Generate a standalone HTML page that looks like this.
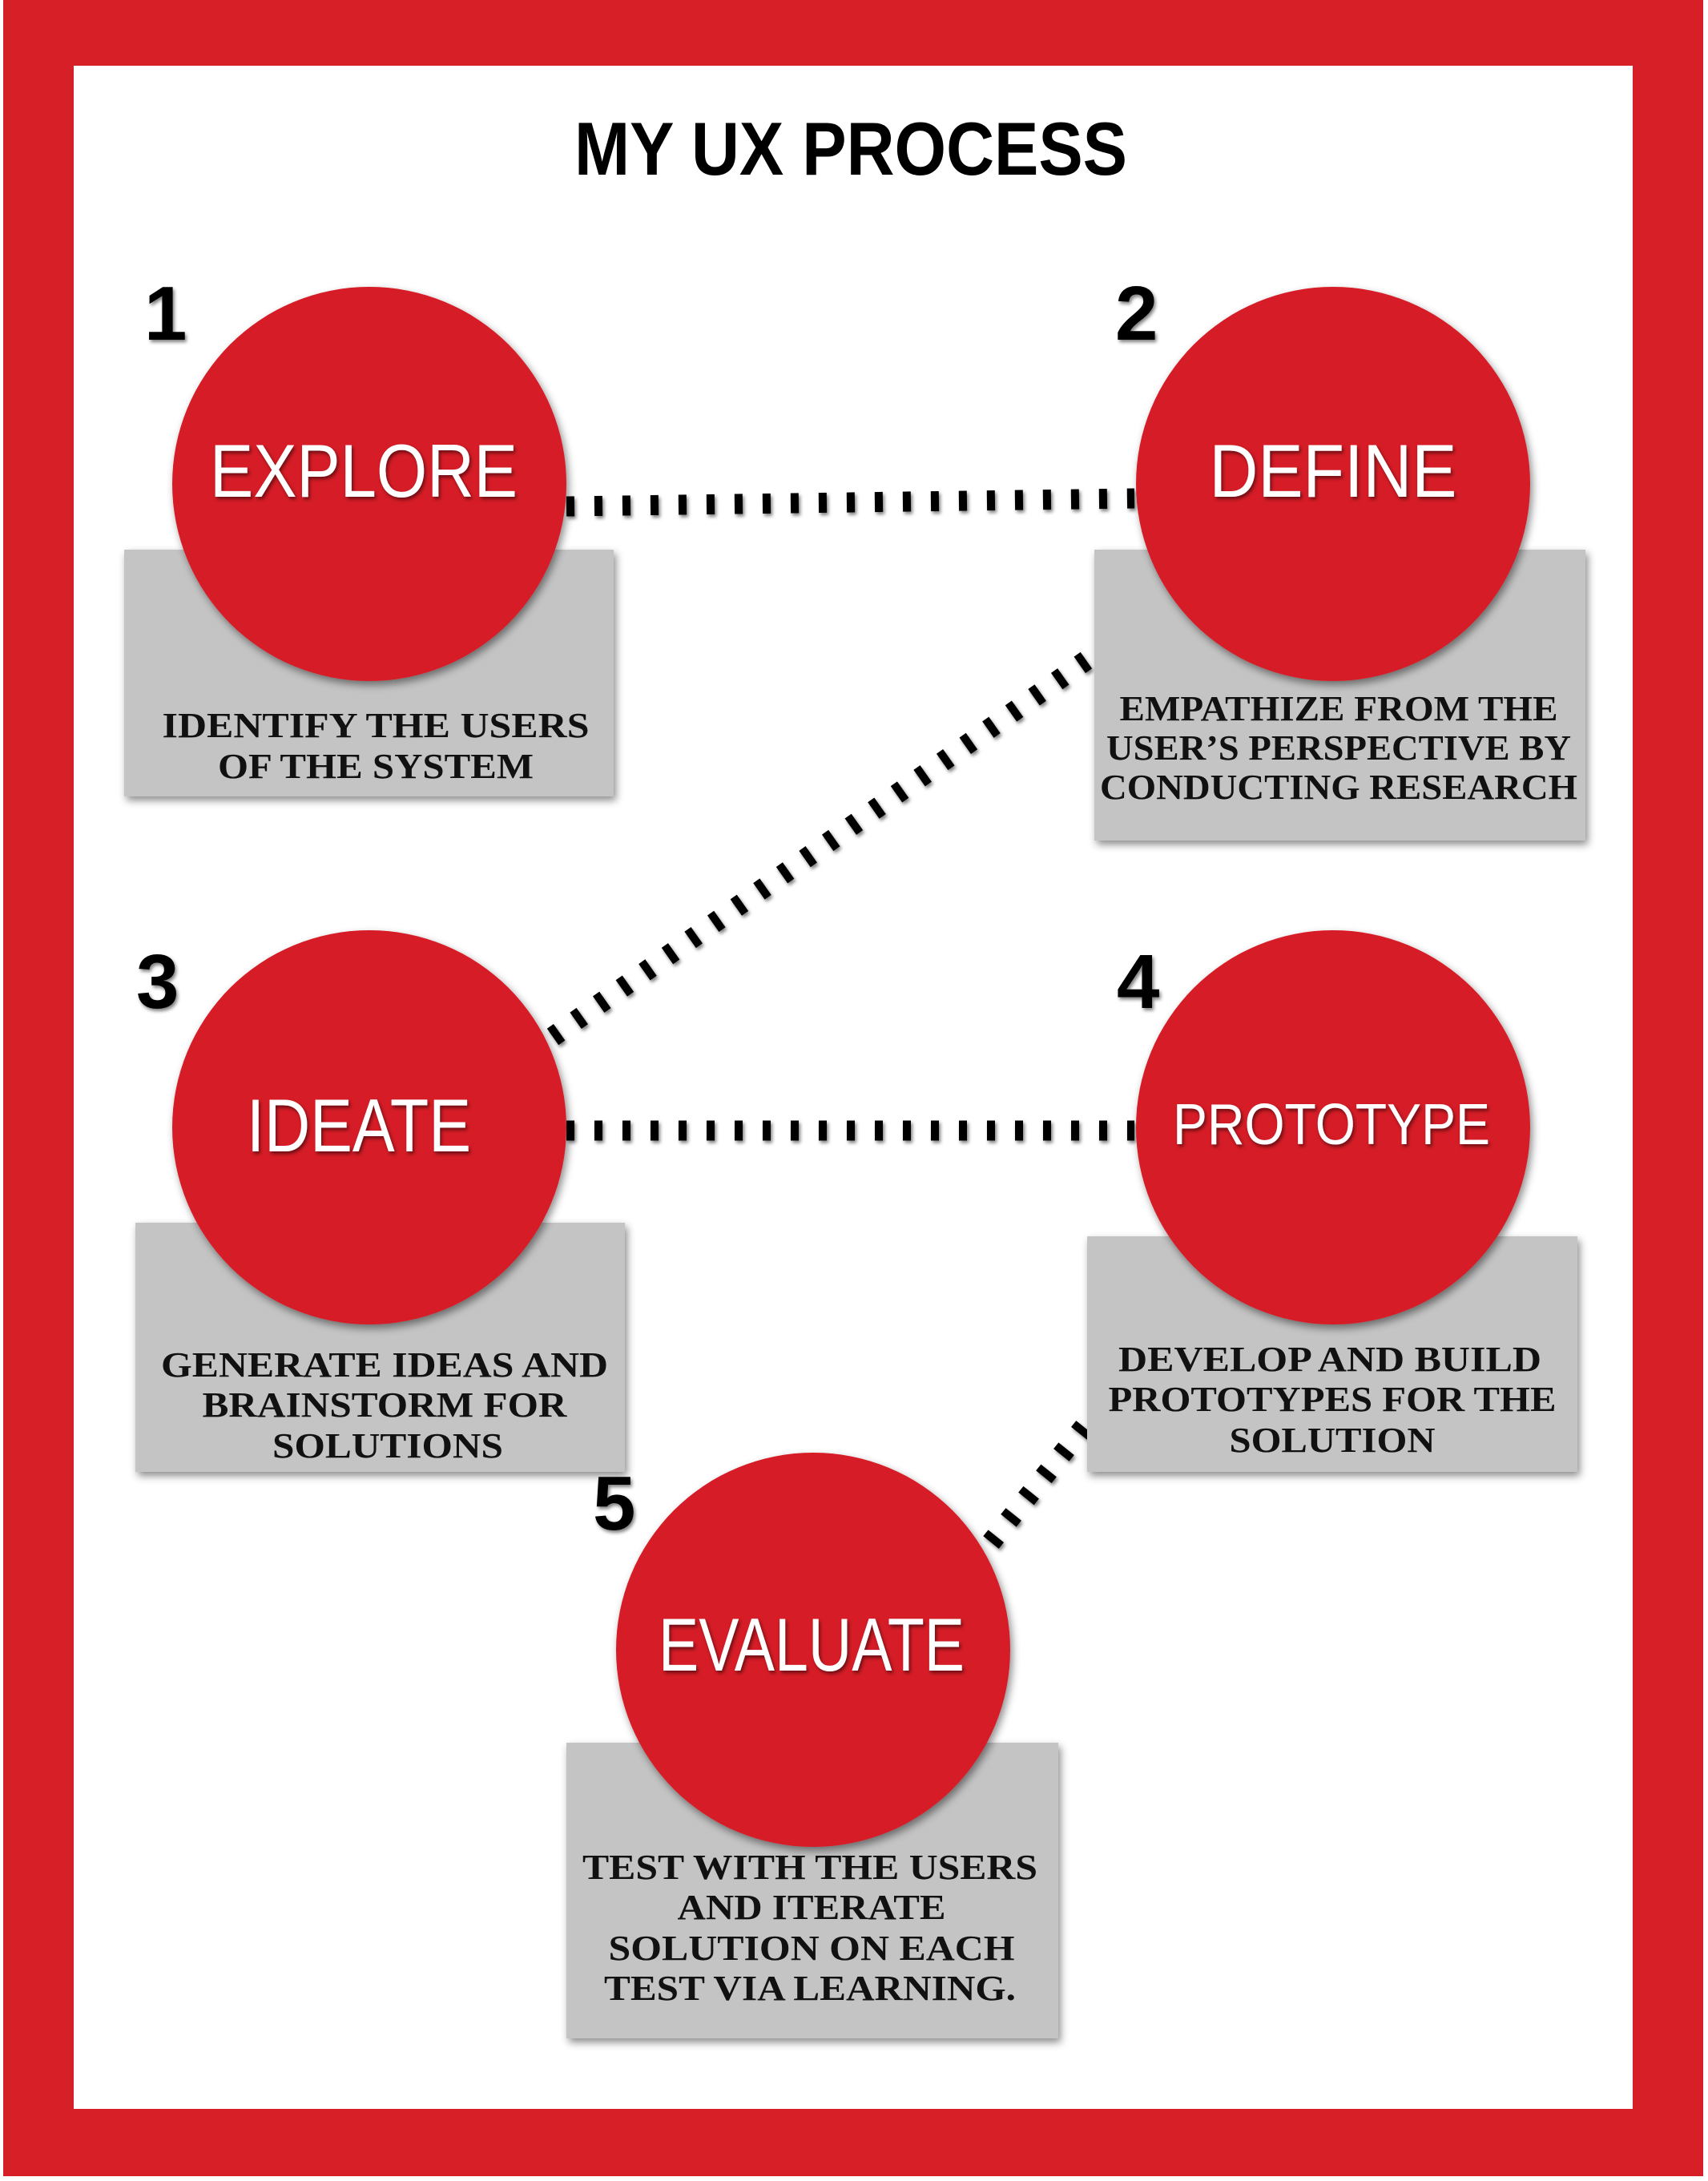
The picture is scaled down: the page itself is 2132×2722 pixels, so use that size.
<!DOCTYPE html>
<html><head><meta charset="utf-8"><style>
html,body{margin:0;padding:0;background:#fff}
svg{display:block}
.lbl{font-family:"Liberation Sans",sans-serif;fill:#fff;}
.bx{font-family:"Liberation Serif",serif;font-weight:bold;font-size:44px;fill:#111;text-anchor:middle}
.num{font-family:"Liberation Sans",sans-serif;font-weight:bold;font-size:96px;fill:#000}
</style></head><body>
<svg width="2132" height="2722" viewBox="0 0 2132 2722" xmlns="http://www.w3.org/2000/svg">
<defs>
<filter id="sh" x="-20%" y="-20%" width="140%" height="140%"><feDropShadow dx="3" dy="5" stdDeviation="5" flood-color="#000" flood-opacity="0.45"/></filter>
<filter id="ts" x="-10%" y="-10%" width="120%" height="130%"><feDropShadow dx="2" dy="3" stdDeviation="2" flood-color="#000" flood-opacity="0.5"/></filter>
</defs>
<rect x="0" y="0" width="2132" height="2722" fill="#fff"/>
<rect x="4" y="0" width="2122" height="2716" fill="#d61f26"/>
<rect x="92" y="82" width="1946" height="2550" fill="#fff"/>
<text x="1062" y="218" text-anchor="middle" font-family="Liberation Sans,sans-serif" font-weight="bold" font-size="94" textLength="690" lengthAdjust="spacingAndGlyphs">MY UX PROCESS</text>

<g fill="none" stroke="#000" stroke-width="25" stroke-dasharray="10 25" filter="url(#ts)">
<line x1="707" y1="632" x2="1416" y2="622"/>
<line x1="690" y1="1294" x2="1366" y2="817"/>
<line x1="707" y1="1411" x2="1416" y2="1411"/>
<line x1="1237" y1="1925" x2="1357" y2="1776"/>
</g>

<g fill="#c4c4c4" filter="url(#sh)">
<rect x="155" y="686" width="611" height="308"/>
<rect x="1366" y="686" width="613" height="363"/>
<rect x="169" y="1526" width="611" height="311"/>
<rect x="1357" y="1543" width="612" height="294"/>
<rect x="707" y="2175" width="614" height="369"/>
</g>

<g fill="#d61f26" filter="url(#sh)">
<circle cx="461" cy="604" r="246"/>
<circle cx="1664" cy="604" r="246"/>
<circle cx="461" cy="1407" r="246"/>
<circle cx="1664" cy="1407" r="246"/>
<circle cx="1015" cy="2059" r="246"/>
</g>

<g class="lbl" filter="url(#ts)" text-anchor="middle">
<text x="454" y="620" font-size="94" text-anchor="middle" textLength="384" lengthAdjust="spacingAndGlyphs">EXPLORE</text>
<text x="1664" y="620" font-size="94" text-anchor="middle" textLength="309" lengthAdjust="spacingAndGlyphs">DEFINE</text>
<text x="448" y="1437" font-size="94" text-anchor="middle" textLength="280" lengthAdjust="spacingAndGlyphs">IDEATE</text>
<text x="1662" y="1428" font-size="72" text-anchor="middle" textLength="396" lengthAdjust="spacingAndGlyphs">PROTOTYPE</text>
<text x="1013" y="2085" font-size="94" text-anchor="middle" textLength="382" lengthAdjust="spacingAndGlyphs">EVALUATE</text>
</g>

<g filter="url(#ts)">
<text class="num" x="180" y="424">1</text>
<text class="num" x="1392" y="424">2</text>
<text class="num" x="170" y="1258">3</text>
<text class="num" x="1394" y="1258">4</text>
<text class="num" x="740" y="1909">5</text>
</g>

<text class="bx" x="469" y="920" textLength="533" lengthAdjust="spacingAndGlyphs">IDENTIFY THE USERS</text>
<text class="bx" x="469" y="971" textLength="394" lengthAdjust="spacingAndGlyphs">OF THE SYSTEM</text>

<text class="bx" x="1671" y="899" textLength="547" lengthAdjust="spacingAndGlyphs">EMPATHIZE FROM THE</text>
<text class="bx" x="1671" y="948" textLength="580" lengthAdjust="spacingAndGlyphs">USER’S PERSPECTIVE BY</text>
<text class="bx" x="1671" y="997" textLength="596" lengthAdjust="spacingAndGlyphs">CONDUCTING RESEARCH</text>

<text class="bx" x="480" y="1718" textLength="558" lengthAdjust="spacingAndGlyphs">GENERATE IDEAS AND</text>
<text class="bx" x="480" y="1768" textLength="455" lengthAdjust="spacingAndGlyphs">BRAINSTORM FOR</text>
<text class="bx" x="484" y="1819" textLength="288" lengthAdjust="spacingAndGlyphs">SOLUTIONS</text>

<text class="bx" x="1660" y="1711" textLength="528" lengthAdjust="spacingAndGlyphs">DEVELOP AND BUILD</text>
<text class="bx" x="1663" y="1761" textLength="559" lengthAdjust="spacingAndGlyphs">PROTOTYPES FOR THE</text>
<text class="bx" x="1663" y="1812" textLength="257" lengthAdjust="spacingAndGlyphs">SOLUTION</text>

<text class="bx" x="1011" y="2345" textLength="568" lengthAdjust="spacingAndGlyphs">TEST WITH THE USERS</text>
<text class="bx" x="1013" y="2395" textLength="335" lengthAdjust="spacingAndGlyphs">AND ITERATE</text>
<text class="bx" x="1013" y="2446" textLength="507" lengthAdjust="spacingAndGlyphs">SOLUTION  ON EACH</text>
<text class="bx" x="1011" y="2496" textLength="514" lengthAdjust="spacingAndGlyphs">TEST VIA LEARNING.</text>
</svg>
</body></html>
